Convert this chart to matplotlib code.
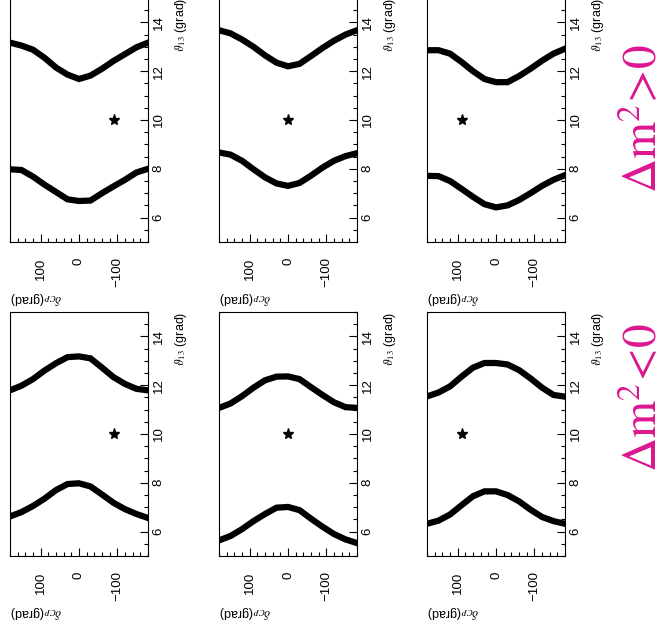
import matplotlib
matplotlib.use('Agg')
import matplotlib.pyplot as plt
from matplotlib.ticker import MultipleLocator, FixedLocator

#delta_CP grid (grad) that every contour is sampled on
delta = [180, 150, 120, 90, 60, 30, 0, -30, -60, -90, -120, -150, -180]

#true delta_CP of the three columns, theta_13 of the true point
deltaTrue = [-90, 0, 90]
thetaTrue = 10

#theta_13 contours for dm^2 > 0 (upper row), left to right
posHi = [
    [13.17, 13.05, 12.88, 12.55, 12.15, 11.86, 11.68, 11.82, 12.10, 12.42, 12.70, 12.98, 13.17],
    [13.68, 13.55, 13.30, 13.00, 12.65, 12.35, 12.20, 12.30, 12.62, 12.95, 13.25, 13.50, 13.68],
    [12.86, 12.86, 12.72, 12.38, 12.00, 11.68, 11.55, 11.55, 11.80, 12.10, 12.43, 12.72, 12.92],
]
posLo = [
    [7.98, 7.95, 7.68, 7.35, 7.05, 6.75, 6.68, 6.70, 7.00, 7.28, 7.55, 7.85, 8.00],
    [8.67, 8.58, 8.33, 7.98, 7.65, 7.40, 7.30, 7.42, 7.72, 8.05, 8.33, 8.52, 8.64],
    [7.71, 7.70, 7.50, 7.18, 6.85, 6.55, 6.42, 6.50, 6.72, 7.00, 7.30, 7.55, 7.74],
]

#theta_13 contours for dm^2 < 0 (lower row), left to right
negHi = [
    [11.79, 11.98, 12.25, 12.60, 12.90, 13.15, 13.18, 13.10, 12.72, 12.33, 12.05, 11.85, 11.79],
    [11.07, 11.25, 11.55, 11.90, 12.20, 12.35, 12.36, 12.25, 11.92, 11.60, 11.30, 11.10, 11.07],
    [11.54, 11.70, 11.95, 12.35, 12.72, 12.91, 12.91, 12.85, 12.62, 12.28, 11.90, 11.60, 11.53],
]
negLo = [
    [6.62, 6.80, 7.05, 7.35, 7.70, 7.95, 7.98, 7.85, 7.52, 7.18, 6.92, 6.72, 6.56],
    [5.64, 5.82, 6.10, 6.43, 6.72, 6.98, 7.01, 6.88, 6.53, 6.20, 5.90, 5.68, 5.53],
    [6.32, 6.45, 6.70, 7.08, 7.45, 7.65, 7.65, 7.50, 7.24, 6.90, 6.60, 6.43, 6.32],
]

rowLabels = [r'$\Delta\mathrm{m}^{2}\!>\!0$', r'$\Delta\mathrm{m}^{2}\!<\!0$']

plt.rcParams['font.family'] = ['Liberation Sans', 'DejaVu Sans']
plt.rcParams['mathtext.fontset'] = 'stix'

#this function sets up one panel: delta on the bottom (reversed), theta_13 on the right
def makePanel(fig, rect):
    ax = fig.add_axes(rect)
    ax.set_xlim(180, -180)
    ax.set_ylim(5, 15)
    ax.xaxis.set_major_locator(FixedLocator([100, 0, -100]))
    ax.xaxis.set_minor_locator(MultipleLocator(20))
    ax.yaxis.set_major_locator(MultipleLocator(2))
    ax.yaxis.set_minor_locator(MultipleLocator(0.5))
    ax.tick_params(which='both', direction='in', top=False, left=False,
                   right=True, bottom=True, labelleft=False, labelright=True,
                   labelsize=9.5, width=0.8)
    ax.tick_params(which='major', length=5.5)
    ax.tick_params(which='minor', length=3)
    ax.tick_params(axis='x', labelrotation=90, pad=11)
    ax.tick_params(axis='y', labelrotation=90, pad=3.5)
    for lab in ax.get_yticklabels():
        lab.set_va('center')
    for sp in ax.spines.values():
        sp.set_linewidth(0.8)
    ax.annotate(r'$\vartheta_{13}$ (grad)', xy=(1, 1), xycoords='axes fraction',
                xytext=(18, 0), textcoords='offset points', rotation=90,
                ha='left', va='top', fontsize=9)
    ax.annotate(r'$\delta_{CP}$(grad)', xy=(0, 0), xycoords='axes fraction',
                xytext=(0, -40), textcoords='offset points', rotation=180,
                ha='left', va='center', fontsize=9)
    return ax

#this function draws the two contour bands and the true point
def drawPanel(ax, hi, lo, dTrue):
    ax.plot(delta, hi, color='black', lw=4.5, solid_joinstyle='miter')
    ax.plot(delta, lo, color='black', lw=4.5, solid_joinstyle='miter')
    ax.plot([dTrue], [thetaTrue], marker='*', color='black', markersize=8, ls='none')

W, H = 672, 635
fig = plt.figure(figsize=(W / 100, H / 100), dpi=100)

colLeft = [10, 219, 427]
rowTop = [-2, 312]
pw, ph = 138, 244

rows = [(posHi, posLo), (negHi, negLo)]
for r in range(2):
    for c in range(3):
        rect = [colLeft[c] / W, 1 - (rowTop[r] + ph) / H, pw / W, ph / H]
        ax = makePanel(fig, rect)
        drawPanel(ax, rows[r][0][c], rows[r][1][c], deltaTrue[c])

#sign of the mass splitting for each row
fig.text(645 / W, 1 - 118 / H, rowLabels[0], rotation=90, ha='center', va='center',
         fontsize=34, color='#DC1690')
fig.text(645 / W, 1 - 397 / H, rowLabels[1], rotation=90, ha='center', va='center',
         fontsize=34, color='#DC1690')

fig.savefig('out.png', dpi=100)
